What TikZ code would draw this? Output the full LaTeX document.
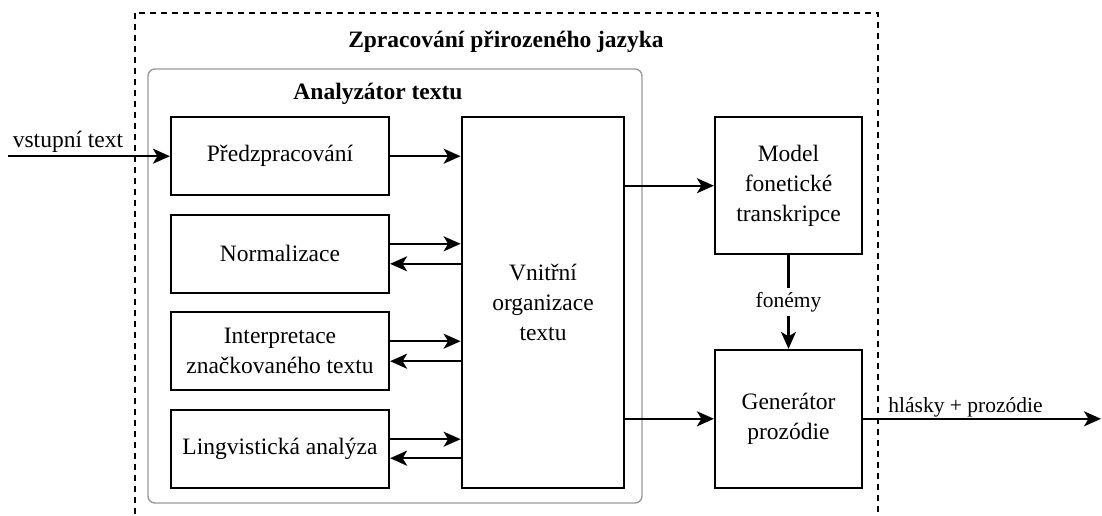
\documentclass[tikz,border=0pt]{standalone}
\usepackage{fontspec}
\setmainfont{LiberationSerif}[Extension=.ttf,UprightFont=*-Regular,BoldFont=*-Bold,ItalicFont=*-Italic,BoldItalicFont=*-BoldItalic]
\usetikzlibrary{arrows.meta,calc}
\begin{document}
\begin{tikzpicture}[x=1pt,y=-1pt,
  box/.style={draw=black,line width=2.2pt,inner sep=0pt,align=center,font=\rmfamily\fontsize{23.5}{30}\selectfont},
  lbl/.style={inner sep=0pt,font=\rmfamily\fontsize{23.5}{30}\selectfont},
  elbl/.style={inner sep=0pt,font=\rmfamily\fontsize{21.5}{26}\selectfont},
  ttl/.style={inner sep=0pt,font=\rmfamily\fontsize{23.5}{30}\selectfont\bfseries},
  arr/.style={line width=2.2pt,-{Stealth[length=17pt,width=15pt,inset=4.5pt]}}]
\useasboundingbox (0,0) rectangle (1102,515);
\clip (0,0) rectangle (1102,515);
% containers
\draw[line width=2.2pt,dash pattern=on 6pt off 5pt] (135,13) rectangle (878,540);
\draw[line width=1.4pt,draw=black!40,rounded corners=7pt] (148,69) rectangle (642,503);
\node[ttl,anchor=base] (t1) at (506,47) {Zpracování přirozeného jazyka};
\node[ttl,anchor=base] (t2) at (378,99) {Analyzátor textu};
% boxes
\node[box,minimum width=218pt,minimum height=78pt] (pre) at (280,156.2) {Předzpracování};
\node[box,minimum width=218pt,minimum height=78pt] (norm) at (280,253.8) {Normalizace};
\node[box,minimum width=218pt,minimum height=78pt] (intp) at (280,351.2) {Interpretace\\značkovaného textu};
\node[box,minimum width=218pt,minimum height=78pt] (ling) at (280,448.7) {Lingvistická analýza};
\node[box,minimum width=162.6pt,minimum height=370.4pt] (vn) at (543,302.5) {Vnitřní\\organizace\\textu};
\node[box,minimum width=147pt,minimum height=136.7pt] (model) at (788.5,185.7) {Model\\fonetické\\transkripce};
\node[box,minimum width=147pt,minimum height=137.7pt] (gen) at (788.5,418.8) {Generátor\\prozódie};
% free ends
\coordinate (in) at (8,156.2);
\coordinate (out) at (1101,418.8);
% connectors
\draw[arr] (in) -- (pre.west);
\node[lbl,anchor=base] (inl) at (68,147) {vstupní text};
\draw[arr] (pre.east) -- (pre.east -| vn.west);
\draw[arr] ([yshift=10pt]norm.east) -- ([yshift=10pt]norm.east -| vn.west);
\draw[arr] ([yshift=-10pt]norm.east -| vn.west) -- ([yshift=-10pt]norm.east);
\draw[arr] ([yshift=10pt]intp.east) -- ([yshift=10pt]intp.east -| vn.west);
\draw[arr] ([yshift=-10pt]intp.east -| vn.west) -- ([yshift=-10pt]intp.east);
\draw[arr] ([yshift=9.5pt]ling.east) -- ([yshift=9.5pt]ling.east -| vn.west);
\draw[arr] ([yshift=-9.5pt]ling.east -| vn.west) -- ([yshift=-9.5pt]ling.east);
\draw[arr] (vn.east |- model.west) -- (model.west);
\draw[arr] (vn.east |- gen.west) -- (gen.west);
\draw[arr] (model.south) -- node[elbl,fill=white,inner sep=4pt] (fon) {fonémy} (gen.north);
\draw[arr] (gen.east) -- (out);
\node[elbl,anchor=base] (outl) at (965.5,412) {hlásky + prozódie};
\end{tikzpicture}
\end{document}
